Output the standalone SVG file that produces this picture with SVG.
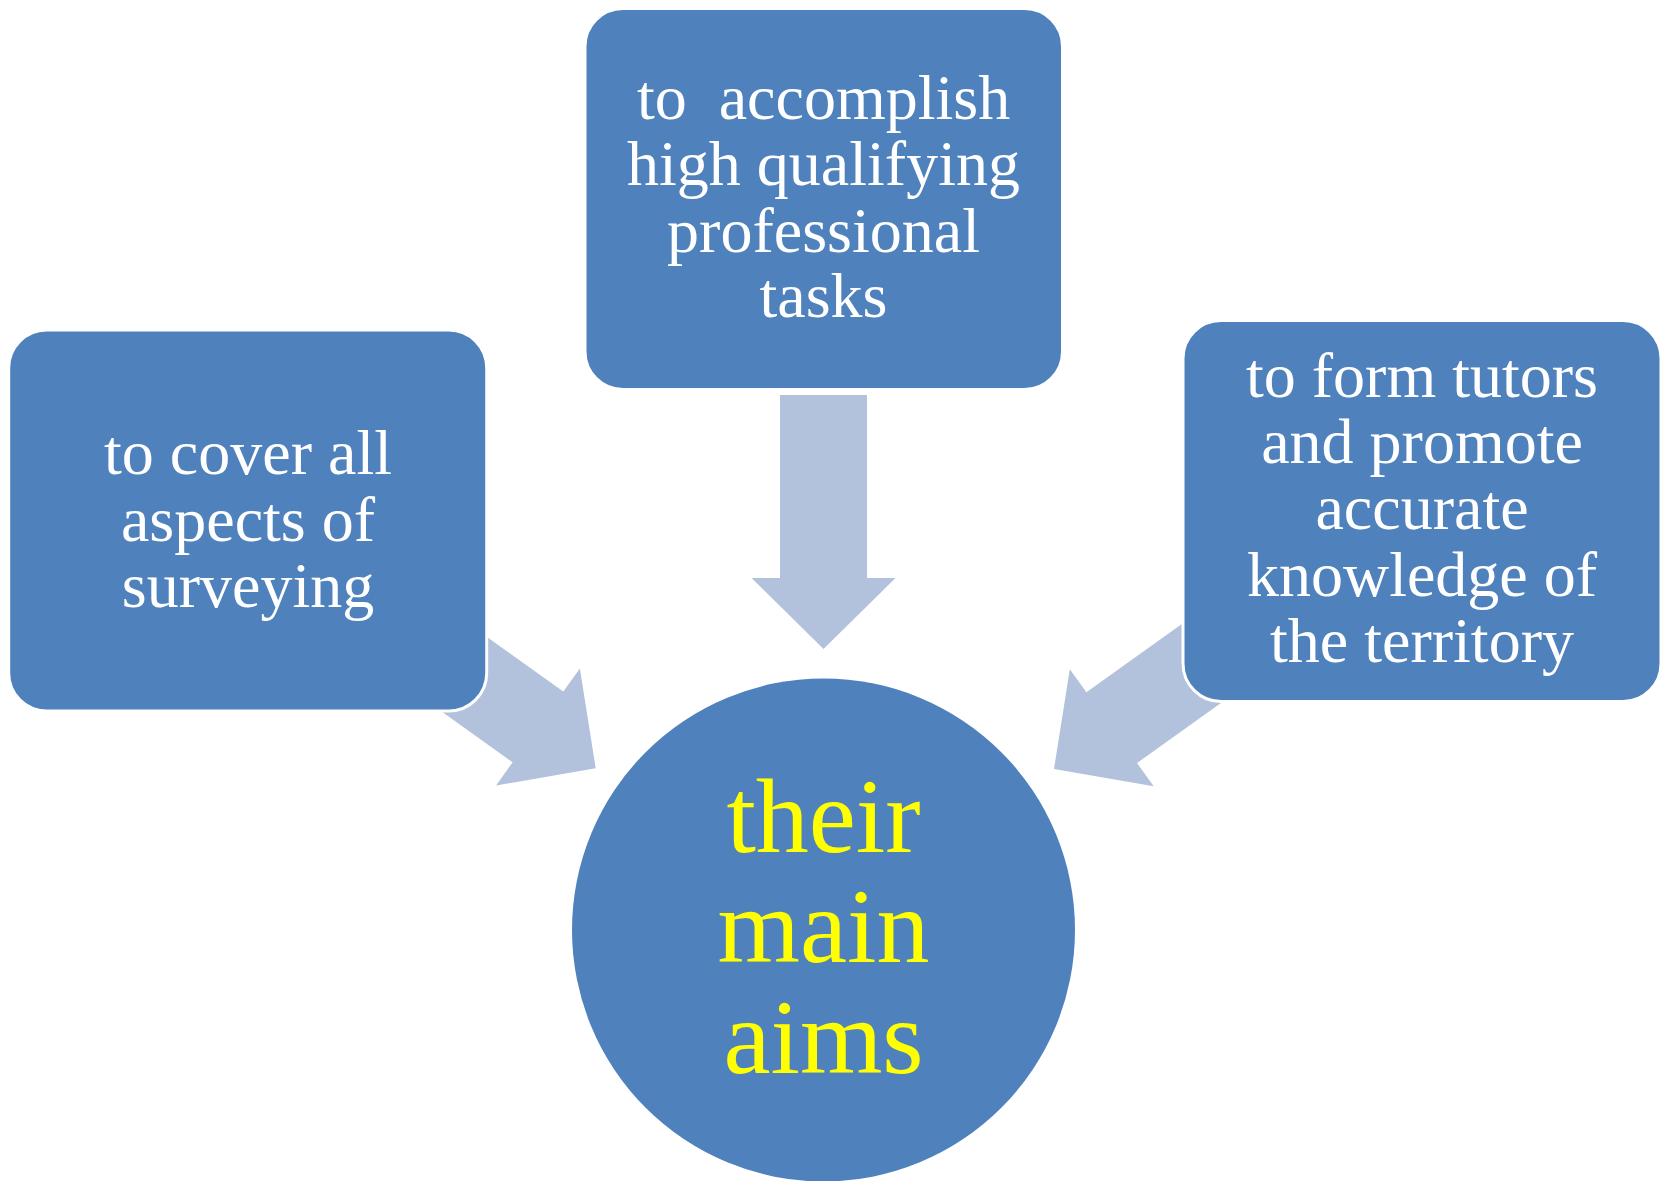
<svg xmlns="http://www.w3.org/2000/svg" width="1667" height="1181" viewBox="0 0 1667 1181">
  <style>
    .box { fill: #4F81BD; stroke: #FFFFFF; stroke-width: 3; }
    .arrow { fill: #B2C1DC; stroke: none; }
    .lbl { font-family: "Liberation Serif", "Times New Roman", serif; font-size: 64px; fill: #FFFFFF; text-anchor: middle; white-space: pre; }
    .center { font-family: "Liberation Serif", "Times New Roman", serif; font-size: 106px; fill: #FFFF00; text-anchor: middle; }
  </style>
  <defs>
    <path id="blockArrow" d="M0,0 L-71,-72 L-71,-43.5 L-254,-43.5 L-254,43.5 L-71,43.5 L-71,72 Z"/>
    <path id="blockArrowShort" d="M0,0 L-71,-72 L-71,-43.5 L-200,-43.5 L-200,43.5 L-71,43.5 L-71,72 Z"/>
  </defs>
  <rect width="1667" height="1181" fill="#FFFFFF"/>
  <g id="connectors">
    <use href="#blockArrow" class="arrow" transform="translate(823.5,649) rotate(90)"/>
    <use href="#blockArrowShort" class="arrow" transform="translate(595.7,768.3) rotate(35.6)"/>
    <use href="#blockArrowShort" class="arrow" transform="translate(1054,769) rotate(144.4)"/>
  </g>
  <g id="node-top">
    <rect class="box" x="585" y="8.5" width="477.5" height="381" rx="38" ry="38"/>
    <text class="lbl" x="823.5" y="119">to  accomplish</text>
    <text class="lbl" x="823.5" y="185">high qualifying</text>
    <text class="lbl" x="823.5" y="252">professional</text>
    <text class="lbl" x="823.5" y="317">tasks</text>
  </g>
  <g id="node-left">
    <rect class="box" x="8.7" y="330" width="478" height="381" rx="38" ry="38"/>
    <text class="lbl" x="248" y="474">to cover all</text>
    <text class="lbl" x="248" y="541">aspects of</text>
    <text class="lbl" x="248" y="607">surveying</text>
  </g>
  <g id="node-right">
    <rect class="box" x="1183" y="320.5" width="478" height="381" rx="38" ry="38"/>
    <text class="lbl" x="1422" y="397">to form tutors</text>
    <text class="lbl" x="1422" y="463">and promote</text>
    <text class="lbl" x="1422" y="529">accurate</text>
    <text class="lbl" x="1422" y="596">knowledge of</text>
    <text class="lbl" x="1422" y="662">the territory</text>
  </g>
  <g id="node-center">
    <circle cx="823.5" cy="930" r="251.5" fill="#4F81BD"/>
    <text class="center" x="823.5" y="852">their</text>
    <text class="center" x="823.5" y="962">main</text>
    <text class="center" x="823.5" y="1073">aims</text>
  </g>
</svg>
